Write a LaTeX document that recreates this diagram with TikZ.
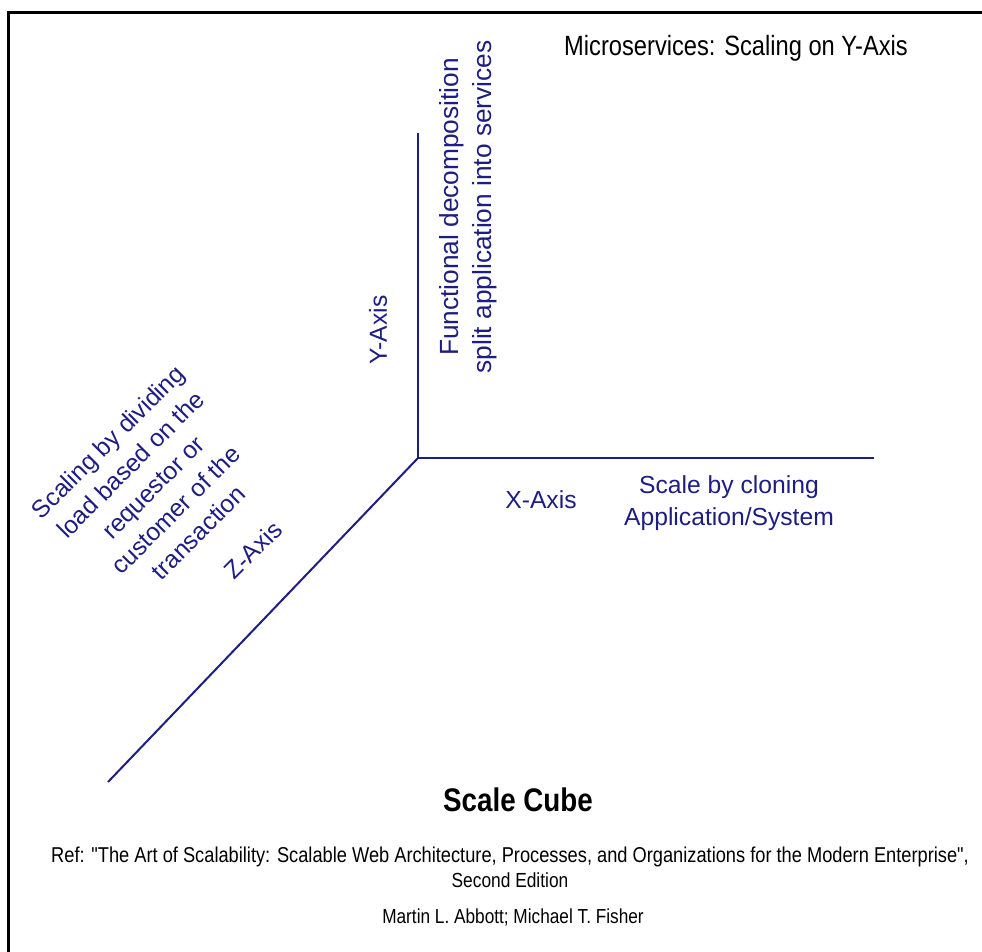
\documentclass[tikz,border=0pt]{standalone}
\usepackage{fontspec}
\setmainfont{Liberation Sans}
\newfontfamily\narrowfont[FakeStretch=0.85]{Liberation Sans}
\definecolor{navy}{RGB}{30,30,130}
\tikzset{
  axisline/.style={draw=navy, line width=1.5pt},
  bluetext/.style={text=navy, font=\fontsize{18.5pt}{24pt}\selectfont, align=center, inner sep=0pt},
  blacktext/.style={text=black, inner sep=0pt, align=center},
}
\begin{document}
\begin{tikzpicture}[x=0.75pt, y=-0.75pt]
\useasboundingbox (0,0) rectangle (982,952);
% frame
\draw[line width=2.4pt, line cap=rect] (8.5,952) -- (8.5,12.5) -- (982,12.5);
% axes
\coordinate (O) at (418,458);
\coordinate (Ytop) at (418,133);
\coordinate (Xend) at (874,458);
\coordinate (Zend) at (108,782);
\draw[axisline] (Ytop) -- (O) -- (Xend);
\draw[axisline] (O) -- (Zend);
% labels
\node[blacktext, font=\narrowfont\fontsize{20.9pt}{24pt}\selectfont] (title) at (736,48) {Microservices: Scaling on Y-Axis};
\node[bluetext, rotate=90] (ylab) at (378,330) {Y-Axis};
\node[bluetext, rotate=90, font=\fontsize{19.7pt}{24.75pt}\selectfont] (ydesc) at (468,207) {Functional decomposition\\split application into services};
\node[bluetext] (xlab) at (541,500) {X-Axis};
\node[bluetext] (xdesc) at (729,503) {Scale by cloning\\Application/System};
\node[bluetext, rotate=45] (zlab) at (253,550) {Z-Axis};
\node[bluetext, rotate=45] (zdesc) at (153,487) {Scaling by dividing\\load based on the\\requestor or\\customer of the\\transaction};
\node[blacktext, font=\narrowfont\bfseries\fontsize{24.5pt}{28pt}\selectfont] (cube) at (518,800) {Scale Cube};
\node[blacktext, font=\narrowfont\fontsize{15.3pt}{18.75pt}\selectfont] (ref) at (510,867) {{\fontsize{16.1pt}{18.75pt}\selectfont Ref: "The Art of Scalability: Scalable Web Architecture, Processes, and Organizations for the Modern Enterprise",}\\Second Edition};
\node[blacktext, font=\narrowfont\fontsize{15.2pt}{18.75pt}\selectfont] (authors) at (513,917) {Martin L. Abbott; Michael T. Fisher};
\end{tikzpicture}
\end{document}
